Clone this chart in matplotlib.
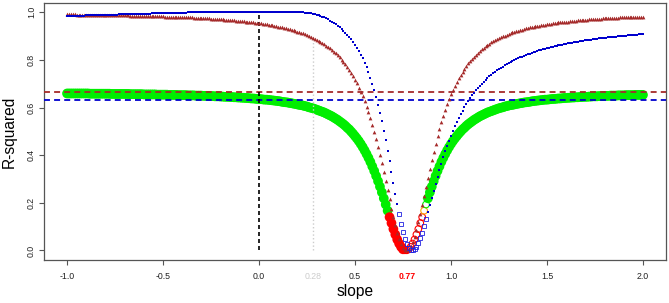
import numpy as np
import matplotlib
matplotlib.use('Agg')
import matplotlib.pyplot as plt

plt.rcParams['font.family'] = ['Liberation Sans', 'DejaVu Sans']

# slope grid and R-squared values
slope = [
    -1.00, -0.99, -0.98, -0.97, -0.96, -0.95, -0.94, -0.93, -0.92, -0.91,
    -0.90, -0.89, -0.88, -0.87, -0.86, -0.85, -0.84, -0.83, -0.82, -0.81,
    -0.80, -0.79, -0.78, -0.77, -0.76, -0.75, -0.74, -0.73, -0.72, -0.71,
    -0.70, -0.69, -0.68, -0.67, -0.66, -0.65, -0.64, -0.63, -0.62, -0.61,
    -0.60, -0.59, -0.58, -0.57, -0.56, -0.55, -0.54, -0.53, -0.52, -0.51,
    -0.50, -0.49, -0.48, -0.47, -0.46, -0.45, -0.44, -0.43, -0.42, -0.41,
    -0.40, -0.39, -0.38, -0.37, -0.36, -0.35, -0.34, -0.33, -0.32, -0.31,
    -0.30, -0.29, -0.28, -0.27, -0.26, -0.25, -0.24, -0.23, -0.22, -0.21,
    -0.20, -0.19, -0.18, -0.17, -0.16, -0.15, -0.14, -0.13, -0.12, -0.11,
    -0.10, -0.09, -0.08, -0.07, -0.06, -0.05, -0.04, -0.03, -0.02, -0.01,
    0.00, 0.01, 0.02, 0.03, 0.04, 0.05, 0.06, 0.07, 0.08, 0.09,
    0.10, 0.11, 0.12, 0.13, 0.14, 0.15, 0.16, 0.17, 0.18, 0.19,
    0.20, 0.21, 0.22, 0.23, 0.24, 0.25, 0.26, 0.27, 0.28, 0.29,
    0.30, 0.31, 0.32, 0.33, 0.34, 0.35, 0.36, 0.37, 0.38, 0.39,
    0.40, 0.41, 0.42, 0.43, 0.44, 0.45, 0.46, 0.47, 0.48, 0.49,
    0.50, 0.51, 0.52, 0.53, 0.54, 0.55, 0.56, 0.57, 0.58, 0.59,
    0.60, 0.61, 0.62, 0.63, 0.64, 0.65, 0.66, 0.67, 0.68, 0.69,
    0.70, 0.71, 0.72, 0.73, 0.74, 0.75, 0.76, 0.77, 0.78, 0.79,
    0.80, 0.81, 0.82, 0.83, 0.84, 0.85, 0.86, 0.87, 0.88, 0.89,
    0.90, 0.91, 0.92, 0.93, 0.94, 0.95, 0.96, 0.97, 0.98, 0.99,
    1.00, 1.01, 1.02, 1.03, 1.04, 1.05, 1.06, 1.07, 1.08, 1.09,
    1.10, 1.11, 1.12, 1.13, 1.14, 1.15, 1.16, 1.17, 1.18, 1.19,
    1.20, 1.21, 1.22, 1.23, 1.24, 1.25, 1.26, 1.27, 1.28, 1.29,
    1.30, 1.31, 1.32, 1.33, 1.34, 1.35, 1.36, 1.37, 1.38, 1.39,
    1.40, 1.41, 1.42, 1.43, 1.44, 1.45, 1.46, 1.47, 1.48, 1.49,
    1.50, 1.51, 1.52, 1.53, 1.54, 1.55, 1.56, 1.57, 1.58, 1.59,
    1.60, 1.61, 1.62, 1.63, 1.64, 1.65, 1.66, 1.67, 1.68, 1.69,
    1.70, 1.71, 1.72, 1.73, 1.74, 1.75, 1.76, 1.77, 1.78, 1.79,
    1.80, 1.81, 1.82, 1.83, 1.84, 1.85, 1.86, 1.87, 1.88, 1.89,
    1.90, 1.91, 1.92, 1.93, 1.94, 1.95, 1.96, 1.97, 1.98, 1.99,
    2.00,
]

# brown triangles
r2_brown = [
    0.991, 0.991, 0.991, 0.991, 0.991, 0.990, 0.990, 0.990, 0.990, 0.990,
    0.990, 0.990, 0.990, 0.990, 0.989, 0.989, 0.989, 0.989, 0.989, 0.989,
    0.989, 0.988, 0.988, 0.988, 0.988, 0.988, 0.988, 0.988, 0.987, 0.987,
    0.987, 0.987, 0.987, 0.986, 0.986, 0.986, 0.986, 0.986, 0.985, 0.985,
    0.985, 0.985, 0.985, 0.984, 0.984, 0.984, 0.984, 0.983, 0.983, 0.983,
    0.983, 0.982, 0.982, 0.982, 0.982, 0.981, 0.981, 0.981, 0.980, 0.980,
    0.980, 0.979, 0.979, 0.979, 0.978, 0.978, 0.977, 0.977, 0.977, 0.976,
    0.976, 0.975, 0.975, 0.974, 0.974, 0.973, 0.973, 0.972, 0.972, 0.971,
    0.971, 0.970, 0.969, 0.969, 0.968, 0.967, 0.967, 0.966, 0.965, 0.964,
    0.964, 0.963, 0.962, 0.961, 0.960, 0.959, 0.958, 0.957, 0.956, 0.955,
    0.954, 0.953, 0.952, 0.950, 0.949, 0.948, 0.946, 0.945, 0.943, 0.942,
    0.940, 0.938, 0.937, 0.935, 0.933, 0.931, 0.929, 0.926, 0.924, 0.922,
    0.919, 0.916, 0.914, 0.911, 0.908, 0.904, 0.901, 0.897, 0.893, 0.889,
    0.885, 0.881, 0.876, 0.871, 0.866, 0.860, 0.854, 0.848, 0.841, 0.834,
    0.827, 0.819, 0.810, 0.801, 0.791, 0.781, 0.770, 0.758, 0.745, 0.731,
    0.717, 0.701, 0.684, 0.666, 0.647, 0.626, 0.604, 0.580, 0.554, 0.527,
    0.498, 0.468, 0.435, 0.401, 0.366, 0.329, 0.291, 0.253, 0.214, 0.176,
    0.140, 0.106, 0.075, 0.048, 0.027, 0.011, 0.002, 0.000, 0.005, 0.017,
    0.035, 0.058, 0.087, 0.119, 0.154, 0.191, 0.230, 0.268, 0.306, 0.344,
    0.380, 0.415, 0.449, 0.480, 0.510, 0.538, 0.565, 0.590, 0.613, 0.634,
    0.655, 0.673, 0.691, 0.707, 0.723, 0.737, 0.750, 0.763, 0.774, 0.785,
    0.795, 0.805, 0.814, 0.822, 0.830, 0.837, 0.844, 0.851, 0.857, 0.862,
    0.868, 0.873, 0.878, 0.883, 0.887, 0.891, 0.895, 0.899, 0.902, 0.906,
    0.909, 0.912, 0.915, 0.918, 0.920, 0.923, 0.925, 0.927, 0.930, 0.932,
    0.934, 0.936, 0.937, 0.939, 0.941, 0.942, 0.944, 0.946, 0.947, 0.948,
    0.950, 0.951, 0.952, 0.953, 0.955, 0.956, 0.957, 0.958, 0.959, 0.960,
    0.961, 0.961, 0.962, 0.963, 0.964, 0.965, 0.966, 0.966, 0.967, 0.968,
    0.968, 0.969, 0.970, 0.970, 0.971, 0.971, 0.972, 0.972, 0.973, 0.974,
    0.974, 0.975, 0.975, 0.975, 0.976, 0.976, 0.977, 0.977, 0.978, 0.978,
    0.978, 0.979, 0.979, 0.979, 0.980, 0.980, 0.980, 0.981, 0.981, 0.981,
    0.982,
]

# blue squares
r2_blue = [
    0.984, 0.985, 0.985, 0.985, 0.985, 0.985, 0.986, 0.986, 0.986, 0.986,
    0.987, 0.987, 0.987, 0.987, 0.988, 0.988, 0.988, 0.988, 0.989, 0.989,
    0.989, 0.989, 0.990, 0.990, 0.990, 0.990, 0.990, 0.991, 0.991, 0.991,
    0.991, 0.992, 0.992, 0.992, 0.992, 0.993, 0.993, 0.993, 0.993, 0.994,
    0.994, 0.994, 0.994, 0.994, 0.995, 0.995, 0.995, 0.995, 0.996, 0.996,
    0.996, 0.996, 0.996, 0.997, 0.997, 0.997, 0.997, 0.997, 0.998, 0.998,
    0.998, 0.998, 0.998, 0.999, 0.999, 0.999, 0.999, 0.999, 0.999, 0.999,
    0.999, 0.999, 0.999, 0.999, 0.999, 0.999, 0.999, 0.999, 0.999, 0.999,
    0.999, 0.999, 0.999, 0.999, 0.999, 0.999, 0.999, 0.999, 0.999, 0.999,
    0.999, 0.999, 0.999, 0.999, 0.999, 0.999, 0.999, 0.999, 0.999, 0.999,
    0.999, 0.999, 0.999, 0.999, 0.999, 0.999, 0.999, 0.999, 0.999, 0.999,
    0.999, 0.999, 0.999, 0.999, 0.999, 0.999, 0.999, 0.999, 0.999, 0.999,
    0.999, 0.999, 0.999, 0.999, 0.998, 0.997, 0.996, 0.995, 0.993, 0.991,
    0.989, 0.987, 0.984, 0.981, 0.978, 0.974, 0.970, 0.965, 0.960, 0.955,
    0.949, 0.943, 0.937, 0.930, 0.922, 0.914, 0.906, 0.896, 0.886, 0.876,
    0.864, 0.851, 0.837, 0.822, 0.806, 0.788, 0.769, 0.748, 0.725, 0.700,
    0.673, 0.644, 0.612, 0.578, 0.542, 0.503, 0.462, 0.419, 0.374, 0.329,
    0.283, 0.237, 0.193, 0.151, 0.112, 0.078, 0.049, 0.027, 0.011, 0.002,
    0.000, 0.005, 0.015, 0.031, 0.051, 0.075, 0.101, 0.130, 0.160, 0.190,
    0.221, 0.251, 0.281, 0.310, 0.338, 0.365, 0.391, 0.416, 0.439, 0.461,
    0.482, 0.502, 0.521, 0.539, 0.556, 0.572, 0.587, 0.601, 0.615, 0.627,
    0.640, 0.651, 0.662, 0.672, 0.682, 0.691, 0.700, 0.708, 0.716, 0.723,
    0.731, 0.737, 0.744, 0.750, 0.756, 0.762, 0.767, 0.772, 0.777, 0.782,
    0.787, 0.791, 0.795, 0.799, 0.803, 0.807, 0.810, 0.814, 0.817, 0.820,
    0.823, 0.826, 0.829, 0.832, 0.835, 0.837, 0.840, 0.842, 0.845, 0.847,
    0.849, 0.851, 0.853, 0.855, 0.857, 0.859, 0.861, 0.863, 0.864, 0.866,
    0.868, 0.869, 0.871, 0.872, 0.874, 0.875, 0.876, 0.878, 0.879, 0.880,
    0.882, 0.883, 0.884, 0.885, 0.886, 0.887, 0.888, 0.890, 0.891, 0.892,
    0.893, 0.893, 0.894, 0.895, 0.896, 0.897, 0.898, 0.899, 0.900, 0.900,
    0.901, 0.902, 0.903, 0.903, 0.904, 0.905, 0.906, 0.906, 0.907, 0.908,
    0.908,
]

# big circles (green / red)
r2_green = [
    0.659, 0.659, 0.659, 0.659, 0.659, 0.659, 0.659, 0.659, 0.659, 0.659,
    0.659, 0.659, 0.658, 0.658, 0.658, 0.658, 0.658, 0.658, 0.658, 0.658,
    0.658, 0.658, 0.658, 0.657, 0.657, 0.657, 0.657, 0.657, 0.657, 0.657,
    0.657, 0.657, 0.657, 0.656, 0.656, 0.656, 0.656, 0.656, 0.656, 0.656,
    0.655, 0.655, 0.655, 0.655, 0.655, 0.655, 0.655, 0.654, 0.654, 0.654,
    0.654, 0.654, 0.654, 0.653, 0.653, 0.653, 0.653, 0.653, 0.652, 0.652,
    0.652, 0.652, 0.652, 0.651, 0.651, 0.651, 0.651, 0.650, 0.650, 0.650,
    0.650, 0.649, 0.649, 0.649, 0.648, 0.648, 0.648, 0.647, 0.647, 0.647,
    0.646, 0.646, 0.645, 0.645, 0.645, 0.644, 0.644, 0.643, 0.643, 0.642,
    0.642, 0.641, 0.641, 0.640, 0.640, 0.639, 0.638, 0.638, 0.637, 0.636,
    0.636, 0.635, 0.634, 0.633, 0.633, 0.632, 0.631, 0.630, 0.629, 0.628,
    0.627, 0.626, 0.624, 0.623, 0.622, 0.621, 0.619, 0.618, 0.616, 0.615,
    0.613, 0.611, 0.610, 0.608, 0.606, 0.604, 0.601, 0.599, 0.597, 0.594,
    0.591, 0.588, 0.585, 0.582, 0.579, 0.575, 0.571, 0.567, 0.563, 0.558,
    0.553, 0.548, 0.542, 0.536, 0.530, 0.523, 0.515, 0.508, 0.499, 0.490,
    0.480, 0.470, 0.459, 0.447, 0.434, 0.420, 0.405, 0.389, 0.372, 0.353,
    0.334, 0.313, 0.291, 0.268, 0.244, 0.219, 0.193, 0.167, 0.140, 0.115,
    0.090, 0.067, 0.046, 0.029, 0.015, 0.005, 0.001, 0.001, 0.005, 0.015,
    0.029, 0.046, 0.067, 0.090, 0.115, 0.140, 0.167, 0.193, 0.219, 0.244,
    0.268, 0.291, 0.313, 0.334, 0.353, 0.372, 0.389, 0.405, 0.420, 0.434,
    0.447, 0.459, 0.470, 0.480, 0.490, 0.499, 0.508, 0.515, 0.523, 0.530,
    0.536, 0.542, 0.548, 0.553, 0.558, 0.563, 0.567, 0.571, 0.575, 0.579,
    0.582, 0.585, 0.588, 0.591, 0.594, 0.597, 0.599, 0.601, 0.604, 0.606,
    0.608, 0.610, 0.611, 0.613, 0.615, 0.616, 0.618, 0.619, 0.621, 0.622,
    0.623, 0.624, 0.626, 0.627, 0.628, 0.629, 0.630, 0.631, 0.632, 0.633,
    0.633, 0.634, 0.635, 0.636, 0.636, 0.637, 0.638, 0.638, 0.639, 0.640,
    0.640, 0.641, 0.641, 0.642, 0.642, 0.643, 0.643, 0.644, 0.644, 0.645,
    0.645, 0.645, 0.646, 0.646, 0.647, 0.647, 0.647, 0.648, 0.648, 0.648,
    0.649, 0.649, 0.649, 0.650, 0.650, 0.650, 0.650, 0.651, 0.651, 0.651,
    0.651, 0.652, 0.652, 0.652, 0.652, 0.652, 0.653, 0.653, 0.653, 0.653,
    0.653,
]

# reference levels and marked slopes
ref_brown = 0.664
ref_blue = 0.631
slope_zero = 0.00
slope_grey = 0.28
slope_red = 0.77

x_ticks = [-1.0, -0.5, 0.0, 0.28, 0.5, 0.77, 1.0, 1.5, 2.0]
x_labels = ['-1.0', '-0.5', '0.0', '0.28', '0.5', '0.77', '1.0', '1.5', '2.0']
y_ticks = [0.0, 0.2, 0.4, 0.6, 0.8, 1.0]
y_labels = ['0.0', '0.2', '0.4', '0.6', '0.8', '1.0']

s = np.array(slope)
br = np.array(r2_brown)
bl = np.array(r2_blue)
gr = np.array(r2_green)

fig = plt.figure(figsize=(6.69, 3.03), dpi=100)
ax = fig.add_axes([44/669, 43/303, 622/669, 257.3/303])
ax.set_xlim(-1.12, 2.12)
ax.set_ylim(-0.04, 1.04)

# circles: filled except just right of the minimum, red when near zero
c_open = (s > 0.755) & (s < 0.875)
col = np.where(gr < 0.15, 'red', np.where((gr < 0.18) & c_open, 'orange', '#00ee00'))
col = np.where(~c_open & (gr < 0.165), 'red', col)
ax.scatter(s[~c_open], gr[~c_open], s=49, c=col[~c_open], linewidths=0, zorder=2)
ax.scatter(s[c_open], gr[c_open], s=23, facecolors='none', edgecolors=col[c_open],
           linewidths=0.8, zorder=2)

ax.axhline(ref_brown, color='#a52a2a', lw=1.3, dashes=(3.3, 2.3), zorder=3)
ax.axhline(ref_blue, color='#0000cd', lw=1.3, dashes=(3.3, 2.3), zorder=3)
ax.plot([slope_zero, slope_zero], [0, bl[slope.index(slope_zero)]], color='black',
        lw=1.2, dashes=(2.4, 1.8), zorder=3)
ax.plot([slope_grey, slope_grey], [0, br[slope.index(slope_grey)]], color='#cccccc',
        lw=1, ls=':', zorder=3)

ax.plot(s, br, ls='none', marker='^', ms=2.7, color='#a52a2a', mew=0, zorder=4)
b_open = (s > 0.725) & (s < 0.875)
ax.plot(s[~b_open], bl[~b_open], ls='none', marker='s', ms=2.1, color='#0000cd', mew=0, zorder=5)
ax.plot(s[b_open], bl[b_open], ls='none', marker='s', ms=2.4, mfc='none', mec='#2020e0',
        mew=0.6, zorder=5)

ax.set_xticks(x_ticks)
ax.set_xticklabels(x_labels)
ax.set_yticks(y_ticks)
ax.set_yticklabels(y_labels, rotation=90, va='center')
ax.tick_params(direction='out', length=3.6, width=0.8, color='#555555', labelsize=6.3,
               labelcolor='#222222', pad=4.7)
ax.tick_params(axis='y', pad=2.3)
ticks = ax.xaxis.get_major_ticks()
lbl = ax.get_xticklabels()
i_grey = x_ticks.index(slope_grey)
i_red = x_ticks.index(slope_red)
ticks[i_grey].tick1line.set_visible(False)
ticks[i_red].tick1line.set_visible(False)
lbl[i_grey].set_color('#cccccc')
lbl[i_red].set_color('red')
lbl[i_red].set_fontweight('bold')
for sp in ax.spines.values():
    sp.set_color('#555555')
    sp.set_linewidth(0.9)

fig.text(9.5/669, 1 - 131.5/303, 'R-squared', rotation=90, ha='center', va='center', fontsize=11.2)
fig.text(355/669, 1 - 291.7/303, 'slope', ha='center', va='center', fontsize=11.2)

fig.savefig('out.png', dpi=100)
